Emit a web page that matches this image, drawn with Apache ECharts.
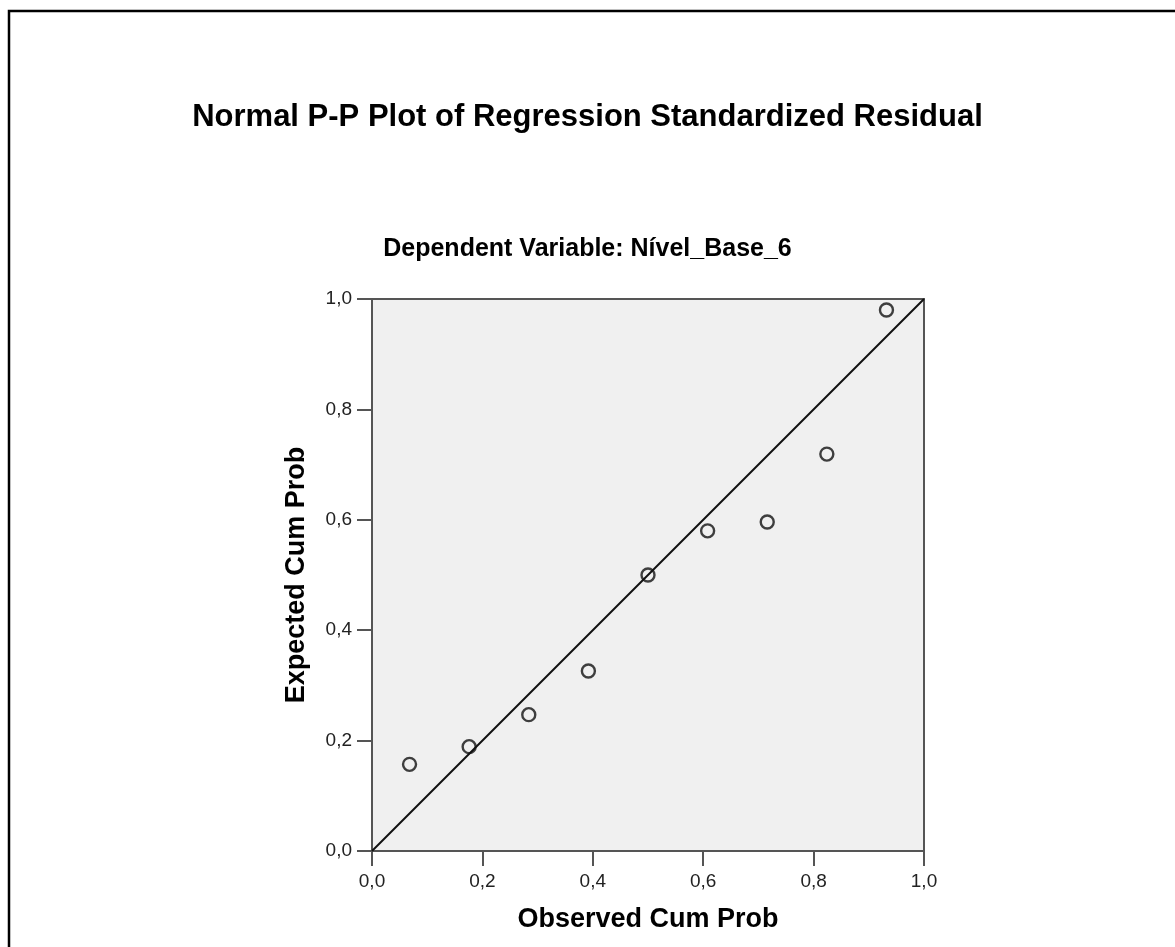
<!DOCTYPE html>
<html>
<head>
<meta charset="utf-8">
<script src="https://cdn.jsdelivr.net/npm/echarts@6/dist/echarts.min.js"></script>
<style>
html,body{margin:0;padding:0;background:#fff;}
#chart{width:1175px;height:947px;}
</style>
</head>
<body>
<div id="chart"></div>
<script>
const observedCumProb = [0.068, 0.176, 0.284, 0.392, 0.500, 0.608, 0.716, 0.824, 0.932];
const expectedCumProb = [0.157, 0.189, 0.247, 0.326, 0.500, 0.580, 0.596, 0.719, 0.980];
const tickValues = [0, 0.2, 0.4, 0.6, 0.8, 1.0];
const referenceLine = [[0, 0], [1, 1]];

const points = observedCumProb.map((x, i) => [x, expectedCumProb[i]]);
const fmt = v => v.toFixed(1).replace('.', ',');
const font = '"Liberation Sans", Arial, sans-serif';

const chart = echarts.init(document.getElementById('chart'), null, {renderer: 'canvas'});
chart.setOption({
  animation: false,
  backgroundColor: '#ffffff',
  textStyle: {fontFamily: font},
  graphic: [{
    type: 'rect', silent: true,
    shape: {x: 9, y: 11, width: 1300, height: 1100},
    style: {fill: 'none', stroke: '#000', lineWidth: 2.5}
  }],
  title: [{
    text: 'Normal P-P Plot of Regression Standardized Residual',
    left: 'center', top: 97,
    textStyle: {fontFamily: font, fontSize: 31, fontWeight: 'bold', color: '#000'}
  }, {
    text: 'Dependent Variable: Nível_Base_6',
    left: 'center', top: 232,
    textStyle: {fontFamily: font, fontSize: 25, fontWeight: 'bold', color: '#000'}
  }],
  grid: {left: 372, top: 299, width: 552, height: 552, show: true,
         backgroundColor: '#f0f0f0', borderColor: '#555', borderWidth: 2},
  xAxis: {
    type: 'value', min: 0, max: 1, interval: 0.2,
    name: 'Observed Cum Prob', nameLocation: 'middle', nameGap: 55,
    nameTextStyle: {fontFamily: font, fontSize: 27, fontWeight: 'bold', color: '#000'},
    axisLine: {show: true, onZero: false, lineStyle: {color: '#555', width: 2}},
    axisTick: {show: true, length: 15, lineStyle: {color: '#555', width: 2}},
    axisLabel: {formatter: fmt, fontSize: 19, color: '#222', margin: 21},
    splitLine: {show: false}
  },
  yAxis: {
    type: 'value', min: 0, max: 1, interval: 0.2,
    name: 'Expected Cum Prob', nameLocation: 'middle', nameGap: 62,
    nameTextStyle: {fontFamily: font, fontSize: 27, fontWeight: 'bold', color: '#000'},
    axisLine: {show: true, onZero: false, lineStyle: {color: '#555', width: 2}},
    axisTick: {show: true, length: 15, lineStyle: {color: '#555', width: 2}},
    axisLabel: {formatter: fmt, fontSize: 19, color: '#222', margin: 20},
    splitLine: {show: false}
  },
  series: [{
    type: 'line', data: referenceLine, symbol: 'none',
    lineStyle: {color: '#111', width: 2}, silent: true, z: 2
  }, {
    type: 'scatter', data: points, symbol: 'circle', symbolSize: 13,
    itemStyle: {color: 'rgba(0,0,0,0)', borderColor: '#111', borderWidth: 2.4},
    z: 3
  }]
});
</script>
</body>
</html>
